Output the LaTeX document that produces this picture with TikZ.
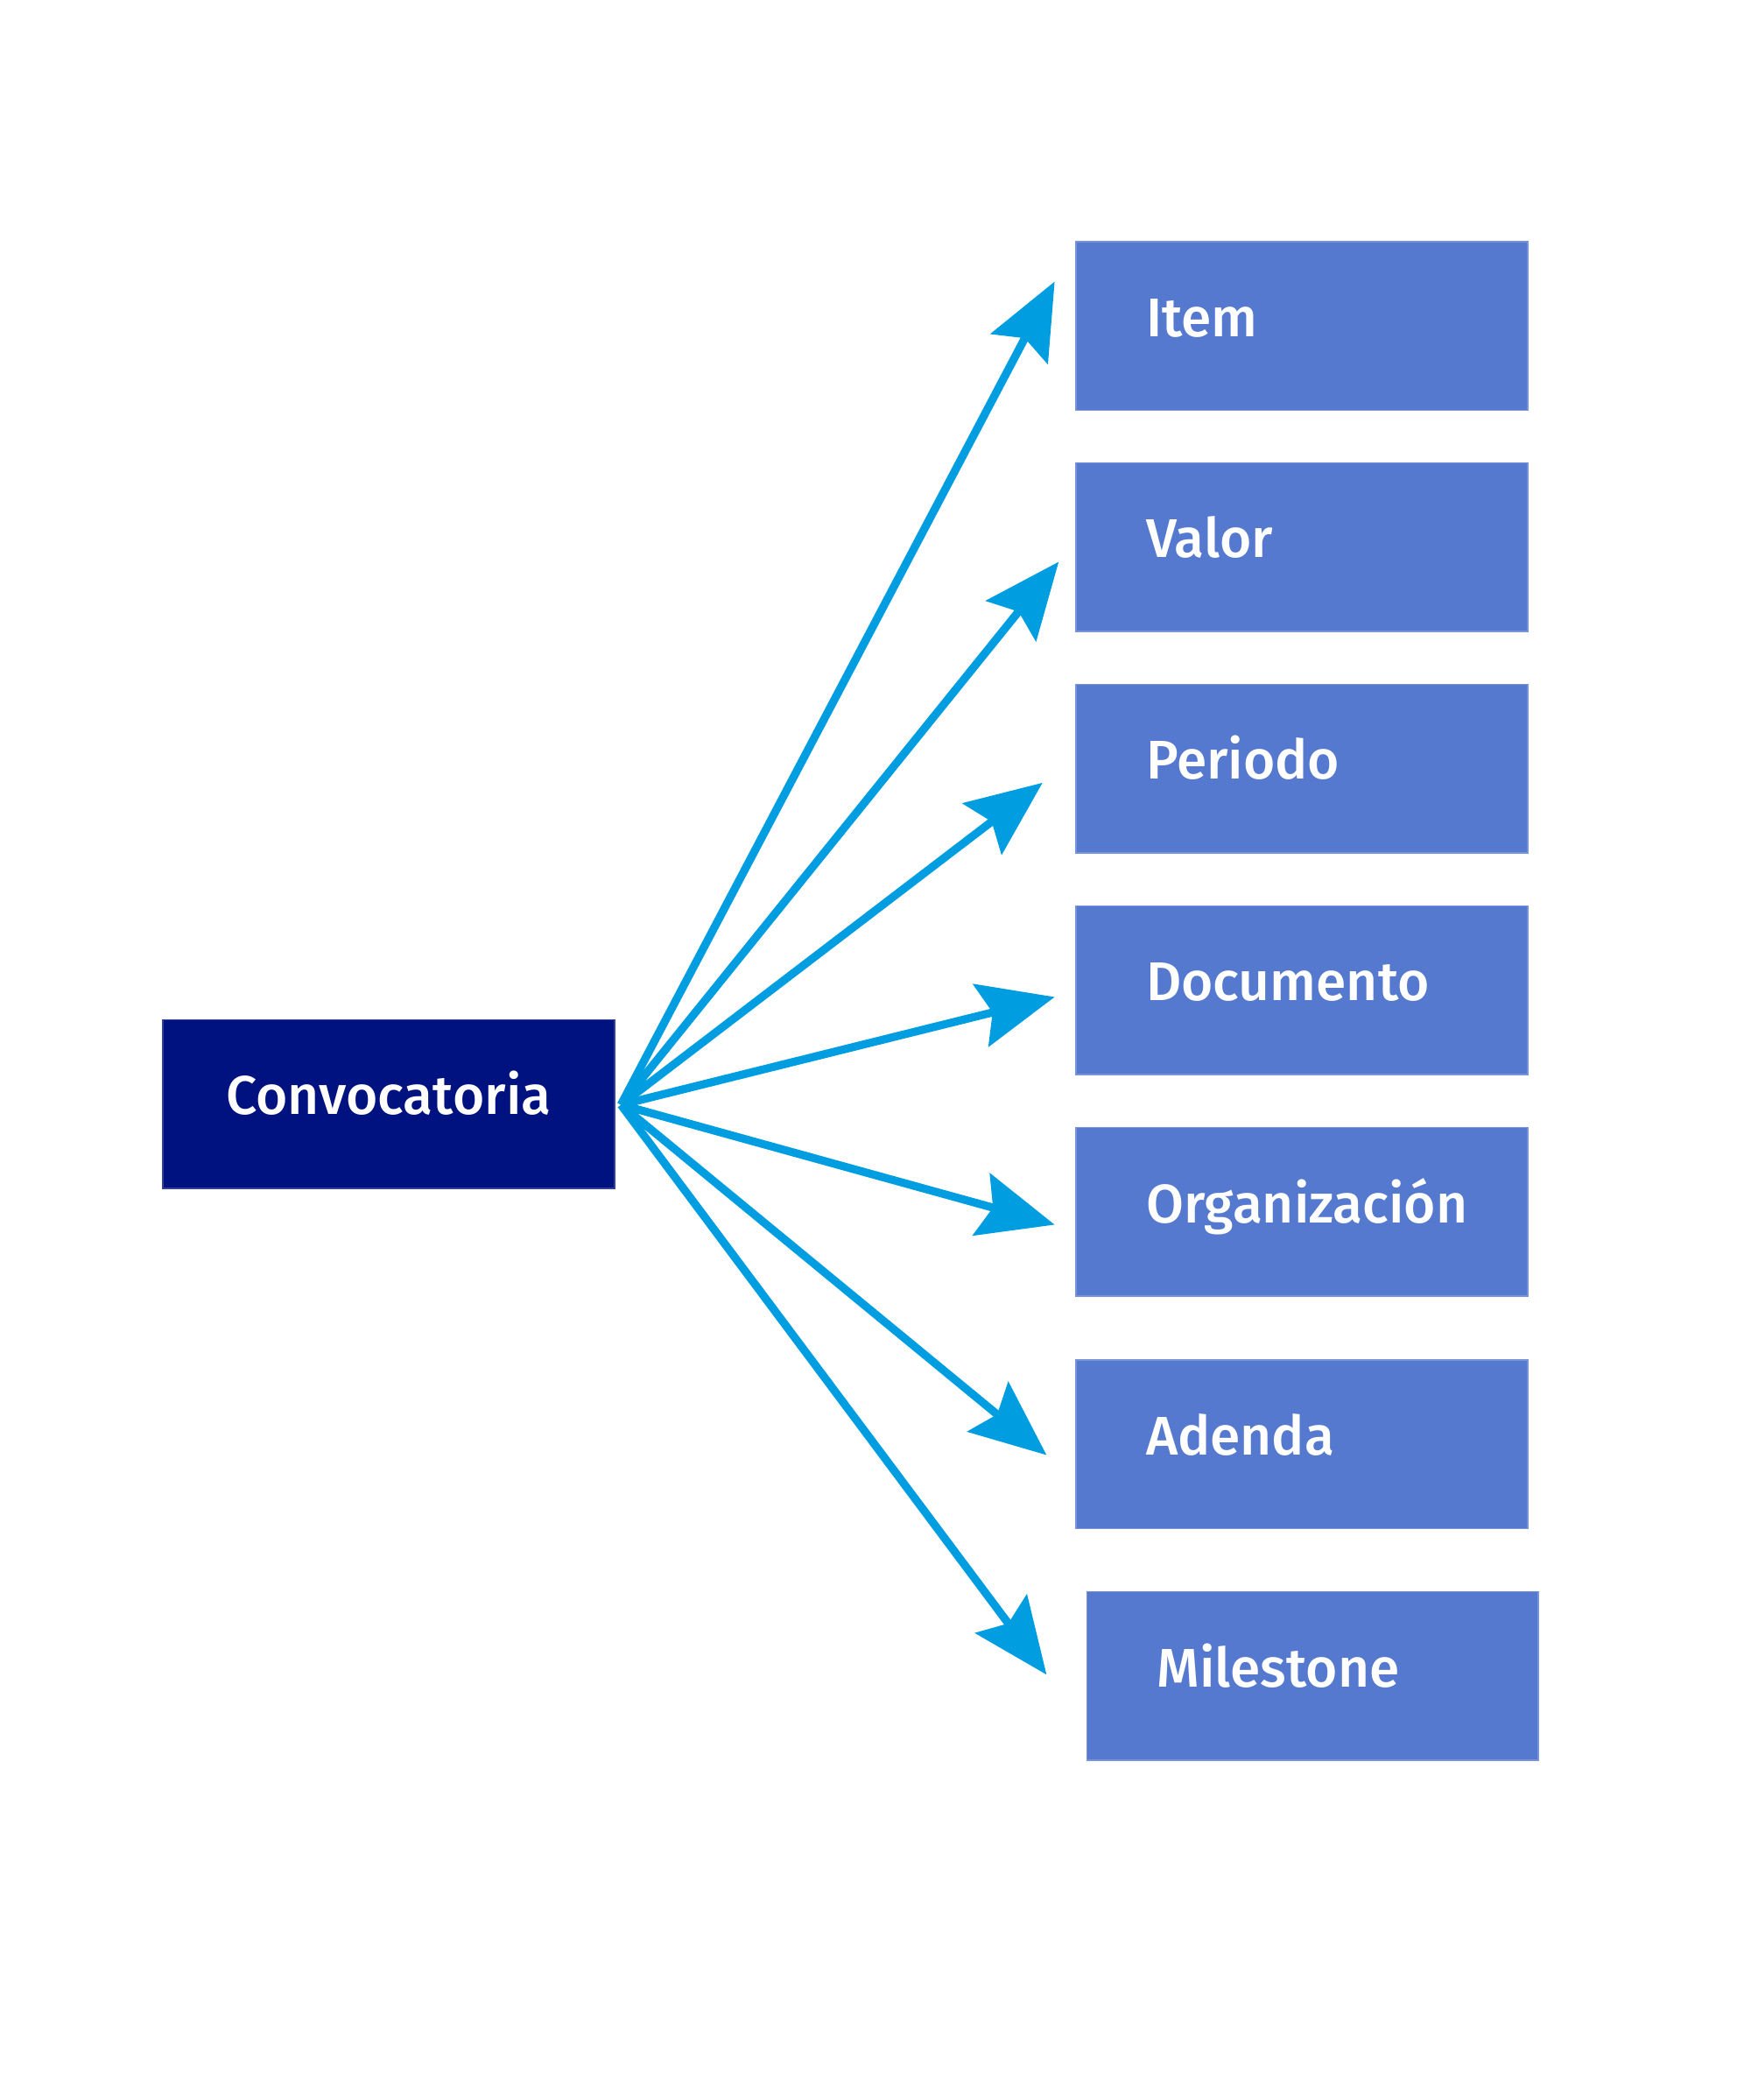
\documentclass[tikz,border=0pt]{standalone}
\usepackage{fontspec}
\setmainfont{Fira Sans Medium}
\usetikzlibrary{arrows.meta}
\definecolor{navybox}{RGB}{0,17,128}
\definecolor{fieldbox}{RGB}{86,121,208}
\definecolor{linkblue}{RGB}{0,158,224}
\begin{document}
\begin{tikzpicture}[x=0.01cm, y=-0.01cm,
  mainbox/.style={fill=navybox, draw=navybox!80!white, line width=0.3pt, minimum width=3.35cm, minimum height=1.25cm, inner sep=0pt, text height=0.75em, text depth=0.3em, text=white, font=\fontsize{11.5}{14}\selectfont},
  fieldnode/.style={fill=fieldbox, draw=fieldbox!80!white, line width=0.3pt, minimum height=1.25cm, text width=2.31cm, inner xsep=0.52cm, inner ysep=0pt, text height=0.75em, text depth=0.3em, align=left, text=white, font=\fontsize{11.5}{14}\selectfont},
  link/.style={draw=linkblue, line width=1.7pt, -{Stealth[length=16pt, width=13.5pt, inset=2.5pt]}}]
\useasboundingbox (0,0) rectangle (1300,1558.7);
\node[mainbox] (conv) at (288.5,819.5) {Convocatoria};
\node[fieldnode] (item) at (966.5,242) {Item};
\node[fieldnode] (valor) at (966.5,406) {Valor};
\node[fieldnode] (periodo) at (966.5,570.5) {Periodo};
\node[fieldnode] (documento) at (966.5,735) {Documento};
\node[fieldnode] (organizacion) at (966.5,899.5) {Organización};
\node[fieldnode] (adenda) at (966.5,1072) {Adenda};
\node[fieldnode] (milestone) at (974.5,1244) {Milestone};
\coordinate (hub) at (461,820);
\coordinate (itemtip) at (783,209);
\coordinate (valortip) at (786,417);
\coordinate (periodotip) at (774,581);
\coordinate (documentotip) at (783,740);
\coordinate (organizaciontip) at (783,909);
\coordinate (adendatip) at (777,1080);
\coordinate (milestonetip) at (777,1243);
\draw[link] (hub) -- (itemtip);
\draw[link] (hub) -- (valortip);
\draw[link] (hub) -- (periodotip);
\draw[link] (hub) -- (documentotip);
\draw[link] (hub) -- (organizaciontip);
\draw[link] (hub) -- (adendatip);
\draw[link] (hub) -- (milestonetip);
\end{tikzpicture}
\end{document}
